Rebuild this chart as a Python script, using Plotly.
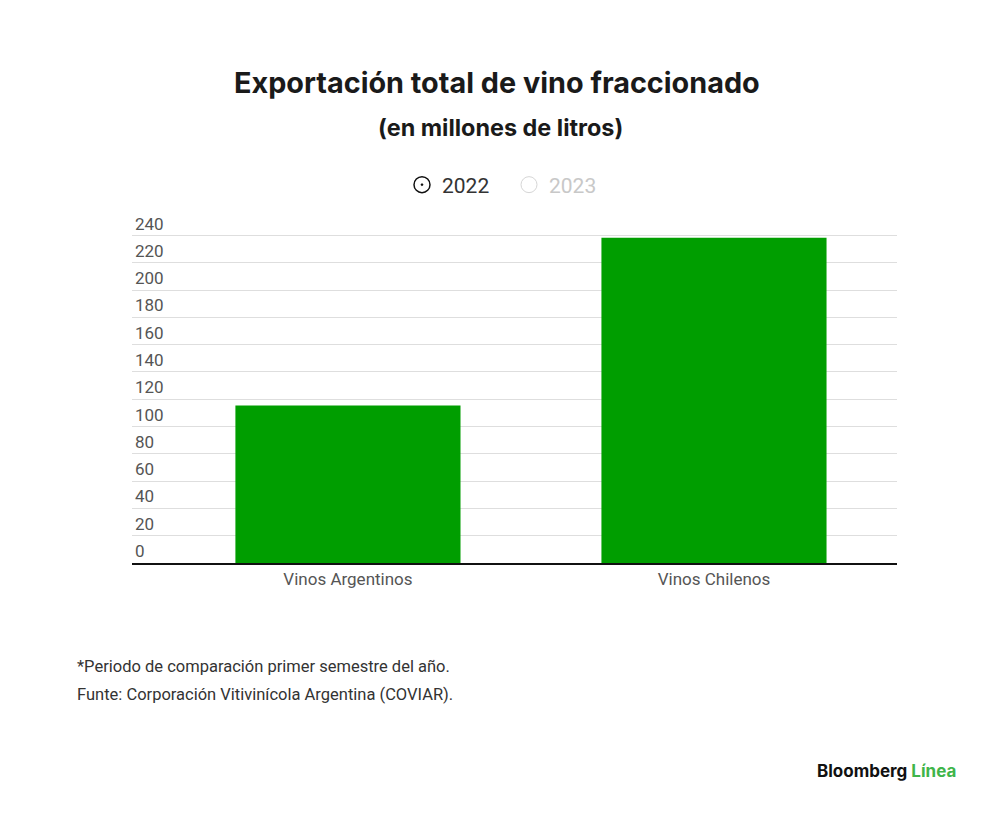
import plotly.graph_objects as go

categories = ["Vinos Argentinos", "Vinos Chilenos"]
values_2022 = [115.5, 238.4]
series_names = ["2022", "2023"]
tick_vals = list(range(0, 241, 20))

# layout geometry (figure pixels)
L, R, T, B = 124, 111, 203, 259
W, H = 1000, 814
PW, PH = W - L - R, H - T - B
OFF = 8  # page offset in screenshot


def px(x):
    return (x - OFF - L) / PW


def py(y):
    return (H - B - (y - OFF)) / PH


fig = go.Figure()
fig.add_trace(go.Bar(
    x=categories, y=values_2022, name=series_names[0],
    marker=dict(color="#009e00", line=dict(width=0)),
    width=0.615, showlegend=False, hoverinfo="x+y",
))
# radio-style legend entries
fig.add_trace(go.Scatter(
    x=[None], y=[None], mode="markers", name=series_names[0],
    marker=dict(symbol="circle-open-dot", size=16, color="#111111",
                line=dict(width=1.5)),
))
fig.add_trace(go.Scatter(
    x=[None], y=[None], mode="markers",
    name="<span style='color:#c8c8c8'>" + series_names[1] + "</span>",
    marker=dict(symbol="circle-open", size=16, color="#d6d6d6",
                line=dict(width=1)),
))

fig.update_layout(
    width=W, height=H,
    paper_bgcolor="white", plot_bgcolor="white",
    margin=dict(l=L, r=R, t=T, b=B),
    font=dict(family="Roboto, Liberation Sans, sans-serif", color="#555555", size=16),
    showlegend=True,
    legend=dict(orientation="h", x=px(509), xref="paper", xanchor="center",
                y=py(185), yanchor="middle",
                font=dict(size=21, color="#333333", family="Roboto, sans-serif"),
                itemsizing="trace", entrywidth=62, entrywidthmode="pixels"),
)
fig.update_xaxes(
    type="category", range=[-0.59, 1.5], showgrid=False,
    showline=True, linecolor="#111111", linewidth=2,
    ticks="", tickfont=dict(size=17, color="#555555"),
    fixedrange=True,
)
fig.update_yaxes(
    range=[0, 258], tickvals=tick_vals, showgrid=True,
    gridcolor="#dedede", gridwidth=1, zeroline=False,
    ticklabelposition="inside top", ticks="",
    tickfont=dict(size=17, color="#555555"),
    fixedrange=True,
)

fig.add_annotation(text="<b>Exportación total de vino fraccionado</b>",
                   xref="paper", yref="paper", x=px(497), y=py(82),
                   xanchor="center", yanchor="middle", showarrow=False,
                   font=dict(family="Inter, sans-serif", size=28.8, color="#1a1a1a"))
fig.add_annotation(text="<b>(en millones de litros)</b>",
                   xref="paper", yref="paper", x=px(500), y=py(127),
                   xanchor="center", yanchor="middle", showarrow=False,
                   font=dict(family="Inter, sans-serif", size=23.4, color="#1a1a1a"))
fig.add_annotation(text="*Periodo de comparación primer semestre del año.",
                   xref="paper", yref="paper", x=px(75), y=py(666),
                   xanchor="left", yanchor="middle", showarrow=False,
                   font=dict(size=16.5, color="#333333"))
fig.add_annotation(text="Funte: Corporación Vitivinícola Argentina (COVIAR).",
                   xref="paper", yref="paper", x=px(75), y=py(694),
                   xanchor="left", yanchor="middle", showarrow=False,
                   font=dict(size=16.5, color="#333333"))
fig.add_annotation(text="<b>Bloomberg <span style='color:#3fb54a'>Línea</span></b>",
                   xref="paper", yref="paper", x=px(958), y=py(771),
                   xanchor="right", yanchor="middle", showarrow=False,
                   font=dict(family="Inter, sans-serif", size=17, color="#111111"))

fig.write_html("out.html")
